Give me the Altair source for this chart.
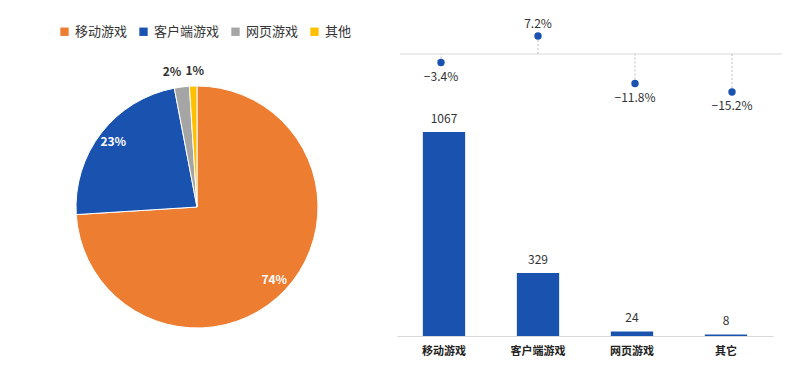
import altair as alt
import pandas as pd

# ---- data ----
pie_cats = ["移动游戏", "客户端游戏", "网页游戏", "其他"]
pie_share = [74, 23, 2, 1]
pie_colors = ["#ED7D31", "#1A52B0", "#A5A5A5", "#FFC000"]

bar_cats = ["移动游戏", "客户端游戏", "网页游戏", "其它"]
bar_values = [1067, 329, 24, 8]
growth = [-3.4, 7.2, -11.8, -15.2]

FONT = "Noto Sans CJK SC"
BLUE = "#1A52B0"

pie_df = pd.DataFrame({"cat": pie_cats, "share": pie_share, "ord": list(range(len(pie_cats)))})
bar_df = pd.DataFrame({"cat": bar_cats, "val": bar_values, "g": growth})

# ---- pie ----
CX, CY, R = 189, 199, 121
theta = alt.Theta("share:Q", stack=True)
order = alt.Order("ord:Q")
base = alt.Chart(pie_df).encode(theta=theta, order=order,
                                x=alt.value(CX), y=alt.value(CY))

arcs = base.mark_arc(radius=R, stroke="white", strokeWidth=1).encode(
    color=alt.Color("cat:N", scale=alt.Scale(domain=pie_cats, range=pie_colors),
                    sort=pie_cats,
                    legend=alt.Legend(orient="none", legendX=50, legendY=17,
                                      direction="horizontal", title=None,
                                      symbolType="square", symbolSize=70,
                                      symbolStrokeWidth=0, labelFontSize=13,
                                      labelFont=FONT, labelColor="#333333",
                                      columnPadding=9, symbolOffset=0))
)
inner = base.transform_calculate(
    lab="datum.share >= 10 ? datum.share + '%' : ''"
).mark_text(radius=106, font=FONT, fontSize=12, fontWeight="bold",
            color="white").encode(text="lab:N")
outer2 = base.transform_calculate(
    lab="datum.share == 2 ? datum.share + '%' : ''"
).mark_text(radius=136, font=FONT, fontSize=12, fontWeight="bold",
            color="#333333", dx=-8).encode(text="lab:N")
outer1 = base.transform_calculate(
    lab="datum.share == 1 ? datum.share + '%' : ''"
).mark_text(radius=136, font=FONT, fontSize=12, fontWeight="bold",
            color="#333333", dx=2).encode(text="lab:N")

pie = alt.layer(arcs, inner, outer2, outer1).properties(width=380, height=328)

# ---- bars ----
xb = alt.X("cat:N", sort=bar_cats, title=None,
           scale=alt.Scale(range=[0, 376], paddingInner=0.55, paddingOuter=0.275),
           axis=alt.Axis(labelFont=FONT, labelFontSize=11, labelFontWeight="bold",
                         labelColor="#222222", labelAngle=0, ticks=False,
                         domainColor="#D9D9D9", labelPadding=9))
yb = alt.Y("val:Q", scale=alt.Scale(domain=[0, 1715], nice=False), axis=None)

bars = alt.Chart(bar_df).mark_bar(color=BLUE).encode(x=xb, y=yb)
bar_text = alt.Chart(bar_df).mark_text(font=FONT, fontSize=12, color="#333333",
                                       baseline="bottom", dy=-6).encode(
    x=xb, y=yb, text="val:Q")
bar_layer = alt.layer(bars, bar_text)

# ---- growth ----
xg = alt.X("cat:N", sort=bar_cats, axis=None,
           scale=alt.Scale(range=[-4.5, 383.5], paddingInner=0, paddingOuter=0))
gscale = alt.Scale(domain=[-112.8, 18.4], nice=False, zero=False)
yg = alt.Y("g:Q", scale=gscale, axis=None)

zero_df = pd.DataFrame({"g": [0]})
zero_rule = alt.Chart(zero_df).mark_rule(color="#D9D9D9", strokeWidth=1).encode(
    y=yg, x=alt.value(3), x2=alt.value(385))
drops = alt.Chart(bar_df).transform_calculate(z="0").mark_rule(
    color="#BFBFBF", strokeDash=[2, 2], strokeWidth=1).encode(
    x=xg, y=yg, y2="z:Q")
dots = alt.Chart(bar_df).mark_point(filled=True, size=55, color=BLUE, opacity=1).encode(
    x=xg, y=yg)
glab_neg = alt.Chart(bar_df).transform_filter("datum.g < 0").transform_calculate(
    lab="format(datum.g, '.1f') + '%'").mark_text(
    font=FONT, fontSize=12, color="#333333", baseline="top", dy=9).encode(
    x=xg, y=yg, text="lab:N")
glab_pos = alt.Chart(bar_df).transform_filter("datum.g >= 0").transform_calculate(
    lab="format(datum.g, '.1f') + '%'").mark_text(
    font=FONT, fontSize=12, color="#333333", baseline="bottom", dy=-5).encode(
    x=xg, y=yg, text="lab:N")
growth_layer = alt.layer(zero_rule, drops, dots, glab_neg, glab_pos)

right = alt.layer(bar_layer, growth_layer).resolve_scale(
    x="independent", y="independent").properties(width=386, height=328)

chart = alt.hconcat(pie, right, spacing=9).properties(
    padding=0, background="white"
).configure_view(stroke=None)

chart.save("out.html", embed_options={"renderer": "svg", "actions": False})
